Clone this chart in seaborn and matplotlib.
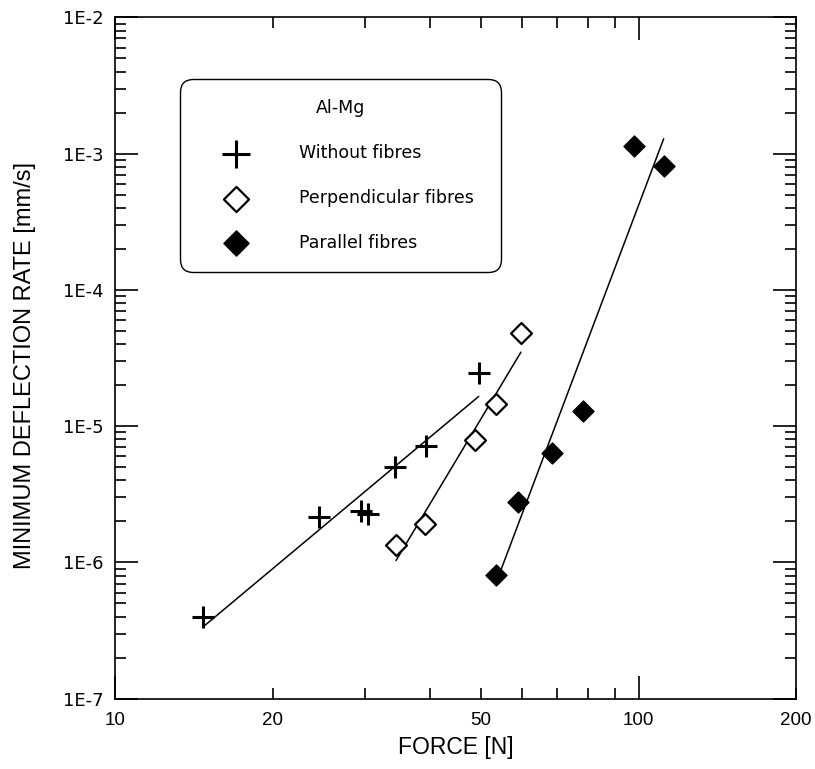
import numpy as np
import pandas as pd
import matplotlib
matplotlib.use("Agg")
import matplotlib.pyplot as plt
import seaborn as sns
from matplotlib.ticker import LogLocator, FuncFormatter, NullFormatter

# Creep data for the Al-Mg matrix: force [N] vs minimum deflection rate [mm/s]
force_without = [14.7, 24.5, 29.5, 30.4, 34.3, 39.3, 49.5]
rate_without = [4.0e-7, 2.17e-6, 2.4e-6, 2.27e-6, 4.99e-6, 7.16e-6, 2.47e-5]

force_perp = [34.4, 39.1, 48.7, 53.5, 59.6]
rate_perp = [1.34e-6, 1.92e-6, 7.9e-6, 1.45e-5, 4.8e-5]

force_par = [53.5, 58.9, 68.2, 78.2, 97.9, 111.7]
rate_par = [8.05e-7, 2.79e-6, 6.39e-6, 1.29e-5, 1.14e-3, 8.12e-4]

series_labels = ["Without fibres", "Perpendicular fibres", "Parallel fibres"]
legend_title = "Al-Mg"
x_labelled = [10, 20, 50, 100, 200]
x_label = "FORCE [N]"
y_label = "MINIMUM DEFLECTION RATE [mm/s]"

NARROW = ["Liberation Sans", "DejaVu Sans"]
REGULAR = ["DejaVu Sans"]

sns.set_style("ticks")
plt.rcParams["font.family"] = REGULAR
plt.rcParams["axes.edgecolor"] = "black"
plt.rcParams["axes.linewidth"] = 1.2
plt.rcParams["text.color"] = "black"
plt.rcParams["axes.labelcolor"] = "black"
plt.rcParams["xtick.color"] = "black"
plt.rcParams["ytick.color"] = "black"

fig = plt.figure(figsize=(8.15, 7.69), dpi=100)
ax = fig.add_axes([0.1415, 0.0914, 0.8352, 0.8861])
ax.set_xscale("log")
ax.set_yscale("log")


def power_fit(force, rate):
    """Least-squares power-law fit (straight line in log-log space)."""
    lx, ly = np.log10(force), np.log10(rate)
    slope, icpt = np.polyfit(lx, ly, 1)
    xs = np.array([min(force), max(force)])
    return pd.DataFrame({"force": xs, "rate": 10 ** (icpt + slope * np.log10(xs))})


for f, r in [(force_without, rate_without), (force_perp, rate_perp), (force_par, rate_par)]:
    fit = power_fit(f, r)
    sns.lineplot(data=fit, x="force", y="rate", color="black", lw=1.1,
                 ax=ax, zorder=2, legend=False)

sns.scatterplot(x=force_without, y=rate_without, marker="+", s=272,
                color="black", linewidth=2.2, ax=ax, zorder=3,
                label=series_labels[0])
sns.scatterplot(x=force_perp, y=rate_perp, marker="D", s=114, color="black",
                facecolor="white", edgecolor="black", linewidth=1.6, ax=ax,
                zorder=3, label=series_labels[1])
sns.scatterplot(x=force_par, y=rate_par, marker="D", s=114, color="black",
                facecolor="black", edgecolor="black", linewidth=1.0, ax=ax,
                zorder=3, label=series_labels[2])

ax.set_xlim(10, 200)
ax.set_ylim(1e-7, 1e-2)

# Axis ticks: inward on all four sides, long decades, short subdivisions
ax.xaxis.set_major_locator(LogLocator(base=10, numticks=10))
ax.xaxis.set_minor_locator(LogLocator(base=10, subs=np.arange(2, 10), numticks=20))
lab_fmt = FuncFormatter(lambda v, p: f"{v:g}" if any(np.isclose(v, x_labelled)) else "")
ax.xaxis.set_major_formatter(lab_fmt)
ax.xaxis.set_minor_formatter(lab_fmt)

ax.yaxis.set_major_locator(LogLocator(base=10, numticks=10))
ax.yaxis.set_minor_locator(LogLocator(base=10, subs=np.arange(2, 10), numticks=20))
ax.yaxis.set_major_formatter(FuncFormatter(lambda v, p: f"1E{int(round(np.log10(v)))}"))
ax.yaxis.set_minor_formatter(NullFormatter())

ax.tick_params(which="both", direction="in", top=True, right=True,
               width=1.2, color="black", labelcolor="black")
ax.tick_params(which="major", length=16.5)
ax.tick_params(which="minor", length=8)
ax.tick_params(axis="x", which="both", labelsize=13.5, pad=9.5,
               labelfontfamily=NARROW)
ax.tick_params(axis="y", which="both", labelsize=13, pad=8.7,
               labelfontfamily=REGULAR)

ax.set_xlabel(x_label, fontsize=16.5, fontfamily=NARROW)
ax.set_ylabel(y_label, fontsize=17, fontfamily=NARROW)
ax.xaxis.set_label_coords(0.5, -0.054)
ax.yaxis.set_label_coords(-0.117, 0.489)

leg = ax.legend(title=legend_title, loc="upper left",
                bbox_to_anchor=(0.095, 0.909, 0.472, 0), mode="expand",
                fontsize=12.5, title_fontsize=12.5, frameon=True, fancybox=True,
                framealpha=1, borderpad=1.15, handlelength=4.1,
                handletextpad=1.6, labelspacing=1.55, markerscale=1.2,
                borderaxespad=0)
frame = leg.get_frame()
frame.set_edgecolor("black")
frame.set_linewidth(1.0)
frame.set_boxstyle("round", pad=0, rounding_size=0.75)

fig.savefig("out.png", dpi=100)
